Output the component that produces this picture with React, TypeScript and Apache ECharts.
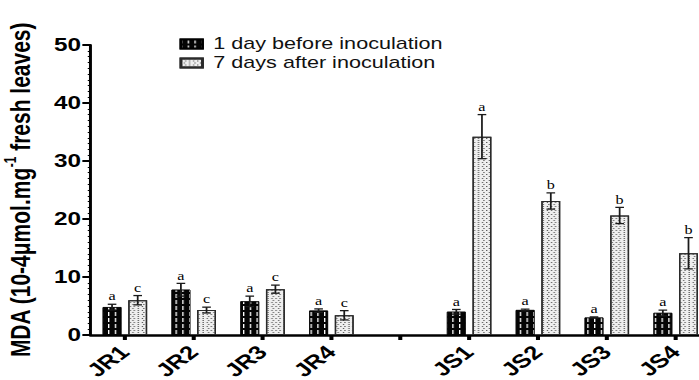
import React, { useEffect, useRef } from "react";
import * as echarts from "echarts";

const categories = ["JR1", "JR2", "JR3", "JR4", "", "JS1", "JS2", "JS3", "JS4"];
const beforeValues = [4.8, 7.8, 5.8, 4.2, null, 4.0, 4.3, 3.0, 3.8];
const beforeErrors = [0.5, 1.1, 0.9, 0.3, null, 0.4, 0.15, 0.1, 0.5];
const afterValues = [6.0, 4.3, 7.9, 3.4, null, 34.2, 23.1, 20.6, 14.1];
const afterErrors = [0.8, 0.5, 0.7, 0.8, null, 3.8, 1.4, 1.4, 2.7];
const beforeLetters = ["a", "a", "a", "a", "", "a", "a", "a", "a"];
const afterLetters = ["c", "c", "c", "c", "", "a", "b", "b", "b"];
const seriesNames = ["1 day before inoculation", "7 days after inoculation"];
const yTicks = { min: 0, max: 50, interval: 10 };

const STRETCH = 1.35;
const INNER_W = Math.round(699 / STRETCH);
const BAR_W = 14;
const BAR_GAP = 5;
const SANS = '"Liberation Sans", Arial, sans-serif';

function errorSeries(values, errors, letters, sign) {
  const data = values.map((v, i) => (v == null ? [i, NaN, NaN] : [i, v, errors[i]]));
  return {
    type: "custom",
    z: 5,
    silent: true,
    data,
    renderItem: (params, api) => {
      const i = api.value(0);
      const v = api.value(1);
      const e = api.value(2);
      if (isNaN(v)) return null;
      const off = (sign * (BAR_W + BAR_GAP)) / 2;
      const top = api.coord([i, v + e]);
      const bot = api.coord([i, v - e]);
      const x = top[0] + off;
      const cap = 3.2;
      const stroke = { stroke: "#1a1a1a", lineWidth: 1.3 };
      return {
        type: "group",
        children: [
          { type: "line", shape: { x1: x, y1: top[1], x2: x, y2: bot[1] }, style: stroke },
          { type: "line", shape: { x1: x - cap, y1: top[1], x2: x + cap, y2: top[1] }, style: stroke },
          { type: "line", shape: { x1: x - cap, y1: bot[1], x2: x + cap, y2: bot[1] }, style: stroke },
          {
            type: "text",
            style: {
              text: letters[params.dataIndex],
              x,
              y: top[1] - 2,
              align: "center",
              verticalAlign: "bottom",
              font: '12px "Liberation Serif", "Times New Roman", serif',
              fill: "#000",
            },
          },
        ],
      };
    },
  };
}

export default function App() {
  const ref = useRef<HTMLDivElement>(null);
  useEffect(() => {
    const chart = echarts.init(ref.current!, null, { renderer: "svg" });
    const darkDecal = {
      symbol: "rect",
      symbolSize: 1,
      color: "#ffffff",
      dashArrayX: [0.8, 3.6],
      dashArrayY: [4, 2],
      rotation: 0,
    };
    const lightDecal = {
      symbol: "rect",
      symbolSize: 1,
      color: "#5a5a5a",
      dashArrayX: [[1, 2], [0, 1.5, 1, 0.5]],
      dashArrayY: [1, 1],
      rotation: 0,
    };
    chart.setOption({
      animation: false,
      backgroundColor: "#ffffff",
      textStyle: { fontFamily: SANS },
      legend: {
        orient: "vertical",
        left: 133,
        top: 36,
        padding: 0,
        itemWidth: 16,
        itemHeight: 9,
        itemGap: 3,
        icon: "rect",
        textStyle: { fontSize: 16, color: "#111", fontFamily: SANS, padding: [0, 0, 0, 3] },
        data: seriesNames,
      },
      grid: {
        left: 67,
        right: INNER_W - (67 + 459),
        top: 45,
        bottom: 45,
        containLabel: false,
        outerBoundsMode: "none",
      },
      xAxis: {
        type: "category",
        data: categories,
        axisLine: { lineStyle: { color: "#000", width: 2.5 } },
        axisTick: { show: true, alignWithLabel: true, length: 5, lineStyle: { color: "#000", width: 3 } },
        axisLabel: {
          interval: 0,
          rotate: 45,
          margin: 14,
          fontSize: 19,
          fontWeight: "bold",
          color: "#000",
          fontFamily: SANS,
        },
      },
      yAxis: {
        type: "value",
        min: yTicks.min,
        max: yTicks.max,
        interval: yTicks.interval,
        name: "{m|MDA (10-4μmol.mg}{s|-1}{m| fresh leaves)}",
        nameLocation: "middle",
        nameGap: 40,
        nameRotate: 90,
        nameTextStyle: {
          rich: {
            m: { fontSize: 21, fontWeight: "bold", color: "#000", fontFamily: SANS, lineHeight: 25 },
            s: { fontSize: 12, fontWeight: "bold", color: "#000", fontFamily: SANS, verticalAlign: "top", lineHeight: 25, padding: [0, 0, 10, 0] },
          },
        },
        splitLine: { show: false },
        axisLine: { show: true, lineStyle: { color: "#000", width: 2.2 } },
        axisTick: { show: true, length: 6, lineStyle: { color: "#000", width: 2 } },
        minorTick: { show: true, splitNumber: 10, length: 2, lineStyle: { color: "#000", width: 1 } },
        axisLabel: {
          margin: 7,
          fontSize: 18,
          fontWeight: "bold",
          color: "#000",
          fontFamily: SANS,
        },
      },
      series: [
        {
          name: seriesNames[0],
          type: "bar",
          data: beforeValues,
          barWidth: BAR_W,
          barGap: (BAR_GAP / BAR_W) * 100 + "%",
          itemStyle: { color: "#050505", borderColor: "#000", borderWidth: 0.6, decal: darkDecal },
        },
        {
          name: seriesNames[1],
          type: "bar",
          data: afterValues,
          barWidth: BAR_W,
          itemStyle: { color: "#efefef", borderColor: "#2a2a2a", borderWidth: 1, decal: lightDecal },
        },
        errorSeries(beforeValues, beforeErrors, beforeLetters, -1),
        errorSeries(afterValues, afterErrors, afterLetters, 1),
      ],
    });
    return () => chart.dispose();
  }, []);
  return (
    <div
      ref={ref}
      style={{
        position: "absolute",
        left: 0,
        top: 0,
        width: INNER_W,
        height: 380,
        transform: `scaleX(${STRETCH})`,
        transformOrigin: "0 0",
      }}
    />
  );
}
